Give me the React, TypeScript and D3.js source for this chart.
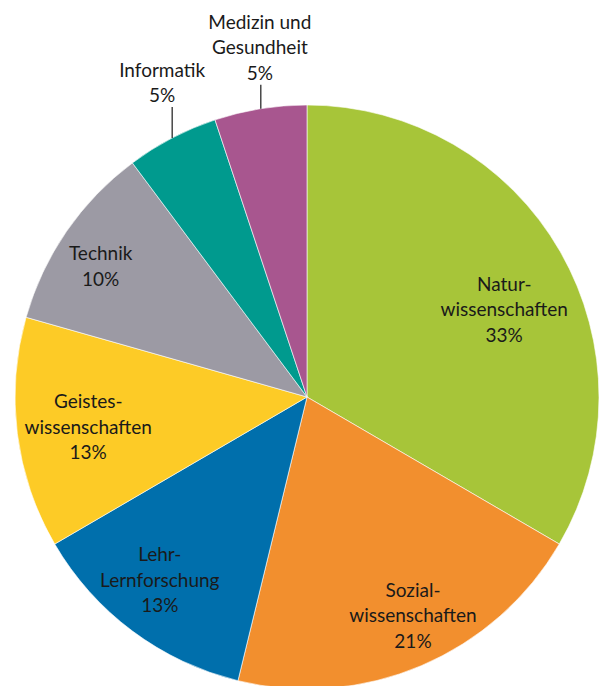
import * as d3 from "d3"

// shares read from the slice boundaries, percent labels as printed
const labelLines = [
  ["Natur-", "wissenschaften"],
  ["Sozial-", "wissenschaften"],
  ["Lehr-", "Lernforschung"],
  ["Geistes-", "wissenschaften"],
  ["Technik"],
  ["Informatik"],
  ["Medizin und", "Gesundheit"],
]
const shares = [33.4, 20.4, 12.8, 12.8, 10.4, 5.1, 5.1]
const percentLabels = ["33%", "21%", "13%", "13%", "10%", "5%", "5%"]
const colors = ["#a7c539", "#f28f2e", "#006fac", "#fdcb26", "#9c9aa4", "#009a8e", "#a8568f"]

// label placement: inside labels nudge off the centroid, outside ones hang on a leader
const inside = [
  { dx: 20, dy: 14 },
  { dx: 26, dy: 30 },
  { dx: -25, dy: 19 },
  { dx: -16, dy: 4 },
  { dx: -38, dy: -15 },
]
const outside = [
  { slice: 5, angle: 332.5, len: 31, textDx: -10 },
  { slice: 6, angle: 350.9, len: 24, textDx: -1 },
]

const width = 601
const height = 686
const cx = 307
const cy = 397
const radius = 292
const lineH = 25.5
const font = "Lato, 'Open Sans', sans-serif"

export default function App() {
  const pie = d3.pie<number>().sort(null).value(d => d)
  const arcs = pie(shares)
  const arc = d3.arc<d3.PieArcDatum<number>>().innerRadius(0).outerRadius(radius)
  const labelArc = d3.arc<d3.PieArcDatum<number>>().innerRadius(radius * 0.7).outerRadius(radius * 0.7)

  const block = (lines: string[], x: number, yCenter: number, key: string) => {
    const top = yCenter - ((lines.length - 1) * lineH) / 2
    return (
      <text key={key} textAnchor="middle" fontFamily={font} fontSize={19} fill="#1a1a1a">
        {lines.map((l, i) => (
          <tspan key={i} x={x} y={top + i * lineH + 7}>{l}</tspan>
        ))}
      </text>
    )
  }

  return (
    <svg width={width} height={height} style={{ position: "absolute", left: 0, top: 0, background: "#fff" }}>
      <g transform={`translate(${cx},${cy})`}>
        {arcs.map((a, i) => (
          <path key={i} d={arc(a) || ""} fill={colors[i]} stroke="#fff" strokeWidth={0.6} />
        ))}
        {inside.map((o, i) => {
          const [x, y] = labelArc.centroid(arcs[i])
          return block([...labelLines[i], percentLabels[i]], x + o.dx, y + o.dy, "in" + i)
        })}
        {outside.map(o => {
          const t = (o.angle * Math.PI) / 180
          const ex = radius * Math.sin(t)
          const ey = -radius * Math.cos(t)
          const sy = ey - o.len
          const lines = [...labelLines[o.slice], percentLabels[o.slice]]
          const yc = sy - 12 - ((lines.length - 1) * lineH) / 2
          return (
            <g key={"out" + o.slice}>
              <line x1={ex} y1={ey} x2={ex} y2={sy} stroke="#1a1a1a" strokeWidth={1.2} />
              {block(lines, ex + o.textDx, yc, "t" + o.slice)}
            </g>
          )
        })}
      </g>
    </svg>
  )
}
